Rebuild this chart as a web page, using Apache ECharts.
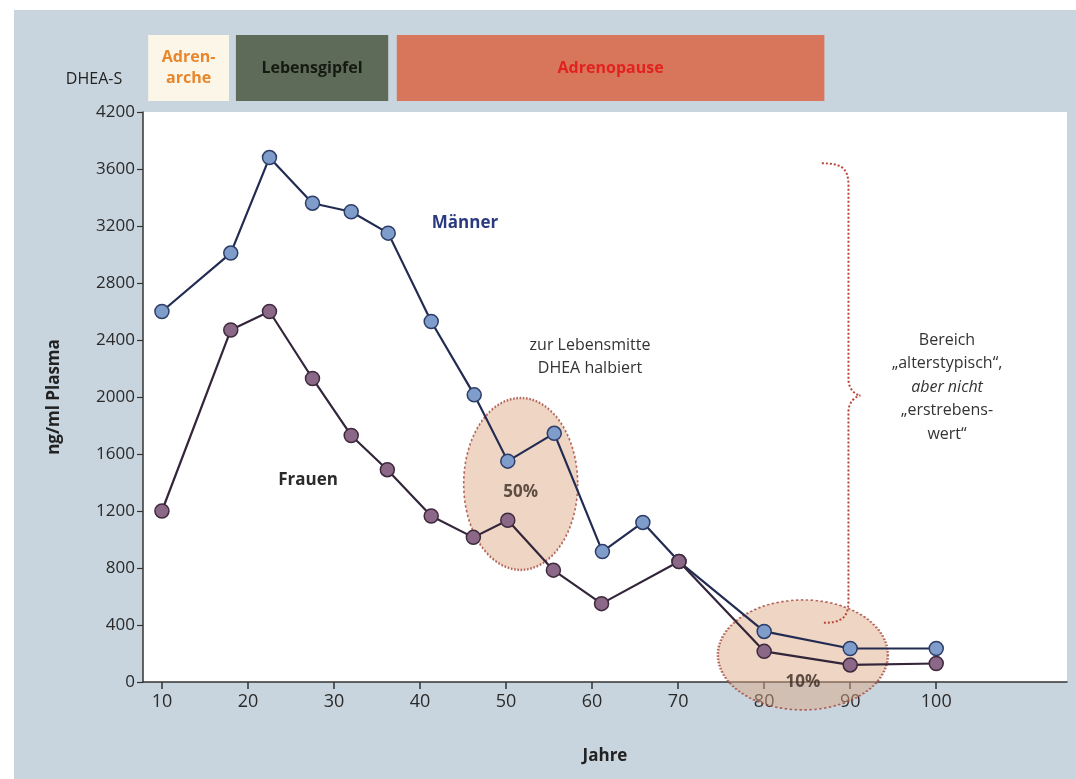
<!DOCTYPE html>
<html lang="de">
<head>
  <meta charset="UTF-8">
  <title>DHEA-S</title>
  <style>
    html, body { margin: 0; padding: 0; background: #ffffff; }
    #chart { width: 1076px; height: 779px; }
  </style>
</head>
<body>
  <div id="chart"></div>
  <script src="https://cdn.jsdelivr.net/npm/echarts@6.0.0/dist/echarts.min.js"></script>
  <script>
    // Werte
    const menAges = [10, 18, 22.5, 27.5, 32, 36.3, 41.3, 46.3, 50.2, 55.6, 61.2, 65.9, 70.1, 80, 90, 100]
    const menValues = [2600, 3010, 3680, 3360, 3300, 3150, 2530, 2015, 1550, 1745, 915, 1120, 845, 355, 235, 235]
    const womenAges = [10, 18, 22.5, 27.5, 32, 36.2, 41.3, 46.2, 50.2, 55.5, 61.1, 70.1, 80, 90, 100]
    const womenValues = [1200, 2470, 2600, 2130, 1730, 1490, 1165, 1015, 1135, 785, 550, 845, 215, 120, 130]

    const xTicks = [10, 20, 30, 40, 50, 60, 70, 80, 90, 100]
    // the top label reads 4200 although it sits one step above 3600
    const yTickLabels = ['0', '400', '800', '1200', '1600', '2000', '2400', '2800', '3200', '3600', '4200']

    const phaseNames = ['Adren-\narche', 'Lebensgipfel', 'Adrenopause']
    const phaseStart = [8.4, 18.6, 37.3]
    const phaseEnd = [17.8, 36.3, 87.0]
    const phaseFill = ['#fbf6e8', '#5e6b58', '#d8765c']
    const phaseText = ['#e8862c', '#141a12', '#e2231d']

    const ellipseCenters = [[51.7, 1390], [84.5, 190]]
    const ellipseSizes = [[114, 172], [170, 110]]
    const ellipseLabels = ['50%', '10%']
    const ellipseLabelOffset = [[0, 8], [0, 27]]

    const braceX = [86.7, 89.8, 91.2]
    const braceY = [3640, 2010, 415]

    const FONT = "'Open Sans', 'Noto Sans', sans-serif"
    const xMin = 7.8, xMax = 115.2

    let myChart = echarts.init(document.getElementById('chart'))

    let markAreas = []
    for (let i = 0; i < phaseNames.length; i++) {
      markAreas.push([
        {
          xAxis: phaseStart[i],
          itemStyle: { color: phaseFill[i], opacity: 1 },
          label: {
            show: true, position: 'inside', formatter: phaseNames[i],
            color: phaseText[i], fontWeight: 'bold', fontSize: 16, lineHeight: 21, fontFamily: FONT
          }
        },
        { xAxis: phaseEnd[i] }
      ])
    }

    let menData = menAges.map((a, i) => [a, menValues[i]])
    let womenData = womenAges.map((a, i) => [a, womenValues[i]])

    let option = {
      animation: false,
      textStyle: { fontFamily: FONT },
      graphic: [
        { type: 'rect', z: -10, shape: { x: 14, y: 10, width: 1062, height: 769 }, style: { fill: '#c8d5de' } },
        { type: 'text', x: 94, y: 79, style: { text: 'DHEA-S', font: '16px ' + FONT, fill: '#222', textAlign: 'center', textVerticalAlign: 'middle' } },
        { type: 'text', x: 465, y: 223, style: { text: 'Männer', font: 'bold 17px ' + FONT, fill: '#2b3a80', textAlign: 'center', textVerticalAlign: 'middle' } },
        { type: 'text', x: 308, y: 480, style: { text: 'Frauen', font: 'bold 17px ' + FONT, fill: '#2a2a2a', textAlign: 'center', textVerticalAlign: 'middle' } },
        { type: 'text', x: 590, y: 357, style: { text: 'zur Lebensmitte\nDHEA halbiert', font: '16px ' + FONT, lineHeight: 23, fill: '#333', textAlign: 'center', textVerticalAlign: 'middle' } },
        {
          type: 'text', x: 947, y: 387,
          style: {
            text: 'Bereich\n„alterstypisch“,\n{i|aber nicht}\n„erstrebens-\nwert“',
            font: '16px ' + FONT, lineHeight: 23.5, fill: '#333', textAlign: 'center', textVerticalAlign: 'middle',
            rich: { i: { fontStyle: 'italic', fontSize: 16, fontFamily: FONT, fill: '#333', lineHeight: 23.5 } }
          }
        }
      ],
      grid: [
        { left: 143, right: 9, top: 112, bottom: 97, show: true, backgroundColor: '#ffffff', borderWidth: 0 },
        { left: 143, right: 9, top: 35, height: 66 }
      ],
      xAxis: [
        {
          type: 'value', min: xMin, max: xMax,
          name: 'Jahre', nameLocation: 'middle', nameGap: 66,
          nameTextStyle: { fontWeight: 'bold', fontSize: 17, color: '#222', fontFamily: FONT },
          splitLine: { show: false },
          axisLine: { lineStyle: { color: '#333', width: 1.5 } },
          axisTick: { customValues: xTicks, length: 7, lineStyle: { color: '#333', width: 1.5 } },
          axisLabel: { customValues: xTicks, fontSize: 18, color: '#2a2a2a', margin: 11, fontFamily: FONT }
        },
        { type: 'value', gridIndex: 1, min: xMin, max: xMax, show: false }
      ],
      yAxis: [
        {
          type: 'value', min: 0, max: 4000, interval: 400,
          name: 'ng/ml Plasma', nameLocation: 'middle', nameGap: 80, nameRotate: 90,
          nameTextStyle: { fontWeight: 'bold', fontSize: 17, color: '#222', fontFamily: FONT },
          splitLine: { show: false },
          axisLine: { show: true, lineStyle: { color: '#333', width: 1.5 } },
          axisTick: { show: true, length: 6, lineStyle: { color: '#333', width: 1.2 } },
          axisLabel: {
            fontSize: 17, color: '#2a2a2a', margin: 8, fontFamily: FONT,
            formatter: function (v) { return yTickLabels[Math.round(v / 400)] }
          }
        },
        { type: 'value', gridIndex: 1, min: 0, max: 1, show: false }
      ],
      series: [
        {
          type: 'line', xAxisIndex: 1, yAxisIndex: 1, data: [], silent: true,
          markArea: { silent: true, data: markAreas }
        },
        {
          type: 'scatter', z: 1, data: ellipseCenters, silent: true,
          symbol: 'circle',
          symbolSize: function (val, params) { return ellipseSizes[params.dataIndex] },
          itemStyle: { color: 'rgba(222, 168, 132, 0.6)', borderColor: '#a4463a', borderWidth: 2, borderType: [2, 2] },
          label: {
            show: true, position: 'inside',
            formatter: function (p) { return ellipseLabels[p.dataIndex] },
            fontWeight: 'bold', fontSize: 17, color: '#3a2a22', fontFamily: FONT
          },
          labelLayout: function (p) {
            let o = ellipseLabelOffset[p.dataIndex]
            return { dx: o[0], dy: o[1] }
          }
        },
        {
          type: 'custom', z: 2, silent: true,
          data: [[braceX[1], braceY[1]]],
          renderItem: function (params, api) {
            let t = api.coord([braceX[1], braceY[0]])
            let m = api.coord([braceX[2], braceY[1]])
            let b = api.coord([braceX[1], braceY[2]])
            let xl = api.coord([braceX[0], braceY[0]])[0]
            let xv = t[0], xt = m[0]
            let yt = t[1], ym = m[1], yb = b[1]
            let d = 'M' + xl + ',' + yt +
              ' C' + (xv - 8) + ',' + yt + ' ' + xv + ',' + (yt + 4) + ' ' + xv + ',' + (yt + 22) +
              ' L' + xv + ',' + (ym - 16) +
              ' C' + xv + ',' + (ym - 6) + ' ' + (xt - 4) + ',' + ym + ' ' + xt + ',' + ym +
              ' C' + (xt - 4) + ',' + ym + ' ' + xv + ',' + (ym + 6) + ' ' + xv + ',' + (ym + 16) +
              ' L' + xv + ',' + (yb - 22) +
              ' C' + xv + ',' + (yb - 4) + ' ' + (xv - 8) + ',' + yb + ' ' + xl + ',' + yb
            return {
              type: 'path',
              shape: { pathData: d },
              style: { fill: 'none', stroke: '#b8463a', lineWidth: 2, lineDash: [2, 2] }
            }
          }
        },
        {
          name: 'Männer', type: 'line', z: 3, data: menData,
          symbol: 'circle', symbolSize: 14,
          lineStyle: { color: '#222c52', width: 2.2 },
          itemStyle: { color: '#7f9dcb', borderColor: '#2e3d68', borderWidth: 1.5 }
        },
        {
          name: 'Frauen', type: 'line', z: 4, data: womenData,
          symbol: 'circle', symbolSize: 14,
          lineStyle: { color: '#33253a', width: 2.2 },
          itemStyle: { color: '#8c6888', borderColor: '#3e2a3c', borderWidth: 1.5 }
        }
      ]
    }
    myChart.setOption(option)
  </script>
</body>
</html>
